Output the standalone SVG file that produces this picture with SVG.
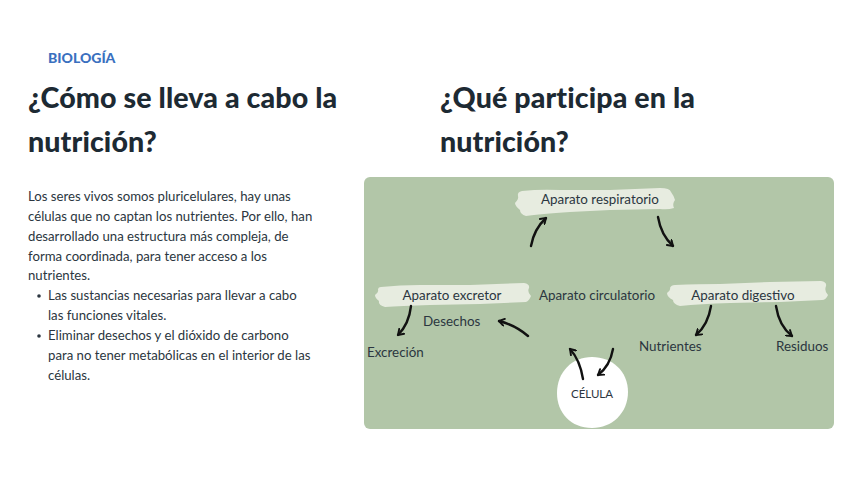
<svg xmlns="http://www.w3.org/2000/svg" width="848" height="477" viewBox="0 0 848 477">
<defs>
<style>
.tag{font-family:Lato,"Noto Sans",sans-serif;font-weight:900;font-size:14px;fill:#3a70bf}
.h{font-family:Lato,"Noto Sans",sans-serif;font-weight:900;font-size:28.6px;letter-spacing:0.1px;fill:#1d2a33}
.b{font-family:Lato,"Noto Sans",sans-serif;font-size:13.2px;fill:#2b3640}
.n{font-family:Lato,"Noto Sans",sans-serif;font-size:13.4px;fill:#2b3640}
.brush{fill:#e7ece0}
.arr{fill:none;stroke:#111;stroke-width:2.4;stroke-linecap:round;marker-end:url(#ah)}
</style>
<marker id="ah" viewBox="0 0 10 10" refX="7" refY="5" markerWidth="3.6" markerHeight="3.6" orient="auto" markerUnits="strokeWidth">
<path d="M1,1 L7,5 L1,9" fill="none" stroke="#111" stroke-width="2.2" stroke-linecap="round" stroke-linejoin="round"/>
</marker>
</defs>
<rect width="848" height="477" fill="#ffffff"/>
<text class="tag" x="48" y="63">BIOLOGÍA</text>
<text class="h" x="28" y="108">¿Cómo se lleva a cabo la</text>
<text class="h" x="28" y="152">nutrición?</text>
<text class="h" x="440" y="108">¿Qué participa en la</text>
<text class="h" x="440" y="152">nutrición?</text>
<g id="body">
<text class="b" x="28" y="201">Los seres vivos somos pluricelulares, hay unas</text>
<text class="b" x="28" y="221">células que no captan los nutrientes. Por ello, han</text>
<text class="b" x="28" y="241">desarrollado una estructura más compleja, de</text>
<text class="b" x="28" y="261">forma coordinada, para tener acceso a los</text>
<text class="b" x="28" y="280">nutrientes.</text>
<circle cx="39" cy="296" r="1.8" fill="#2b3640"/>
<text class="b" x="48" y="300">Las sustancias necesarias para llevar a cabo</text>
<text class="b" x="48" y="320">las funciones vitales.</text>
<circle cx="39" cy="336" r="1.8" fill="#2b3640"/>
<text class="b" x="48" y="340">Eliminar desechos y el dióxido de carbono</text>
<text class="b" x="48" y="360">para no tener metabólicas en el interior de las</text>
<text class="b" x="48" y="380">células.</text>
</g>
<rect id="panel" x="364" y="177" width="470" height="252" rx="6" fill="#b2c6a8"/>
<g id="respiratorio">
<path class="brush" d="M522,191 Q540,189 560,190 L610,190 L660,188 Q670,188 671,192 Q674,196 675,200 Q672,204 674,208 Q668,210 660,209 L610,210 L570,212 Q540,214 526,216 Q520,214 520,210 Q515,206 515,203 Q519,199 518,196 Q517,192 522,191 Z"/>
<text class="n" x="600" y="204" text-anchor="middle">Aparato respiratorio</text>
</g>
<g id="excretor">
<path class="brush" d="M381,287 Q400,285 420,285 L470,285 L524,283 Q530,284 529,288 Q527,292 531,296 Q529,301 526,302 L480,304 L430,305 Q400,306 385,307 Q378,305 379,301 Q375,298 375,295 Q379,292 378,290 Q378,287 381,287 Z"/>
<text class="n" x="452" y="300" text-anchor="middle">Aparato excretor</text>
</g>
<g id="circulatorio">
<text class="n" x="597" y="300" text-anchor="middle">Aparato circulatorio</text>
</g>
<g id="digestivo">
<path class="brush" d="M675,285 Q700,284 720,284 L770,282 L821,281 Q827,282 826,286 Q824,291 828,295 Q826,300 822,300 L780,302 L730,303 Q700,304 680,306 Q673,304 673,300 Q667,297 667,293 Q671,290 670,288 Q671,285 675,285 Z"/>
<text class="n" x="743" y="300" text-anchor="middle">Aparato digestivo</text>
</g>
<g id="desechos"><text class="n" x="423" y="326">Desechos</text></g>
<g id="excrecion"><text class="n" x="367" y="357">Excreción</text></g>
<g id="nutrientes"><text class="n" x="639" y="351">Nutrientes</text></g>
<g id="residuos"><text class="n" x="776" y="351">Residuos</text></g>
<g id="celula">
<path d="M592,357 C612,357 628,371 628,392 C628,413 612,428 592,428 C571,428 557,413 557,393 C557,372 572,357 592,357 Z" fill="#ffffff"/>
<text x="592" y="398" text-anchor="middle" font-family="Lato,'Noto Sans',sans-serif" font-size="11.5" fill="#2b3640">CÉLULA</text>
</g>
<g id="connectors">
<path class="arr" d="M531,246 Q534,229 546,218"/>
<path class="arr" d="M658,217 Q661,235 673,246"/>
<path class="arr" d="M411,306 Q409,324 398,335"/>
<path class="arr" d="M528,336 Q515,325 499,321"/>
<path class="arr" d="M583,379 Q580,360 570,349"/>
<path class="arr" d="M613,349 Q610,366 598,375"/>
<path class="arr" d="M711,306 Q708,325 696,335"/>
<path class="arr" d="M776,306 Q779,326 792,336"/>
</g>
</svg>
